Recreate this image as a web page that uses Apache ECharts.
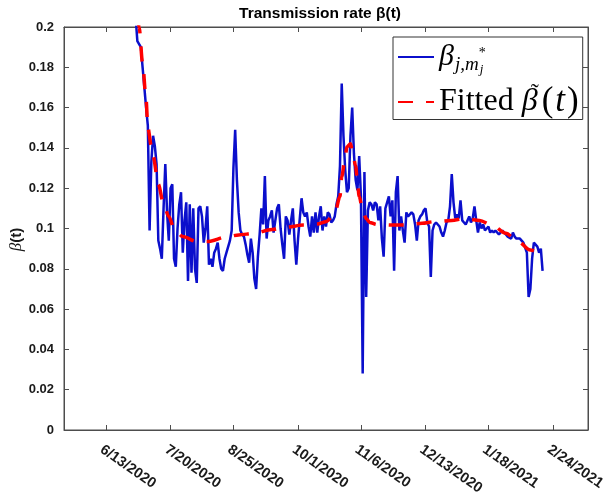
<!DOCTYPE html>
<html>
<head>
<meta charset="utf-8">
<script src="https://cdn.jsdelivr.net/npm/echarts@6/dist/echarts.min.js"></script>
<style>
  html, body { margin: 0; padding: 0; background: #fff; }
  #chart { width: 611px; height: 498px; }
</style>
</head>
<body>
<div id="chart"></div>
<script>
// x positions are day numbers counted from 6/13/2020 (day 0)
const xTickDays = [0, 37, 73, 110, 146, 183, 219, 256];
const xTickLabels = ['6/13/2020', '7/20/2020', '8/25/2020', '10/1/2020',
                     '11/6/2020', '12/13/2020', '1/18/2021', '2/24/2021'];
const xMinDay = -24;
const xMaxDay = 276;

const yMin = 0;
const yMax = 0.2;
const yStep = 0.02;

const seriesNames = ['beta_j', 'fitted'];

// daily transmission rate estimates, first value on day betaStartDay
const betaStartDay = 15;
const betaValues = [
  0.24, 0.22, 0.205, 0.193, 0.193, 0.190, 0.180, 0.170, 0.160, 0.151,
  0.099, 0.133, 0.146, 0.141, 0.132, 0.094, 0.090, 0.085, 0.110, 0.132,
  0.108, 0.094, 0.120, 0.122, 0.085, 0.081, 0.100, 0.112, 0.118, 0.088,
  0.104, 0.113, 0.074, 0.112, 0.078, 0.110, 0.080, 0.073, 0.110, 0.111,
  0.106, 0.093, 0.100, 0.111, 0.082, 0.085, 0.081, 0.088, 0.090, 0.093,
  0.085, 0.080, 0.079, 0.085, 0.088, 0.088, 0.094, 0.099, 0.130, 0.149,
  0.124, 0.108, 0.099, 0.097, 0.096, 0.092, 0.087, 0.083, 0.095, 0.088,
  0.075, 0.070, 0.086, 0.097, 0.110, 0.102, 0.126, 0.095, 0.104, 0.106,
  0.109, 0.098, 0.104, 0.110, 0.112, 0.100, 0.092, 0.085, 0.106, 0.104,
  0.097, 0.104, 0.110, 0.094, 0.082, 0.095, 0.105, 0.115, 0.108, 0.106,
  0.108, 0.101, 0.096, 0.106, 0.098, 0.108, 0.098, 0.106, 0.111, 0.099,
  0.106, 0.101, 0.108, 0.107, 0.103, 0.104, 0.106, 0.112, 0.116, 0.131,
  0.172, 0.146, 0.129, 0.118, 0.120, 0.146, 0.160, 0.137, 0.124, 0.119,
  0.136, 0.116, 0.028, 0.128, 0.066, 0.109, 0.113, 0.112, 0.109, 0.113,
  0.112, 0.104, 0.111, 0.095, 0.086, 0.110, 0.113, 0.116, 0.106, 0.114,
  0.079, 0.118, 0.126, 0.099, 0.106, 0.099, 0.093, 0.108, 0.106, 0.107,
  0.108, 0.107, 0.102, 0.094, 0.104, 0.106, 0.107, 0.109, 0.110, 0.103,
  0.101, 0.076, 0.099, 0.102, 0.103, 0.102, 0.101, 0.098, 0.096, 0.099,
  0.103, 0.104, 0.111, 0.127, 0.113, 0.105, 0.107, 0.105, 0.114, 0.104,
  0.103, 0.102, 0.104, 0.106, 0.103, 0.105, 0.111, 0.104, 0.098, 0.103,
  0.100, 0.102, 0.099, 0.100, 0.101, 0.098, 0.099, 0.098, 0.099, 0.099,
  0.097, 0.098, 0.099, 0.098, 0.097, 0.096, 0.096, 0.095, 0.098, 0.096,
  0.095, 0.095, 0.095, 0.094, 0.093, 0.093, 0.088, 0.066, 0.070, 0.085,
  0.093, 0.092, 0.091, 0.088, 0.090, 0.079
];

// fitted smooth curve
const fitDays = [17, 19, 21, 23, 24, 26, 27, 30, 33, 36, 39, 44, 52, 58, 70, 76, 85, 95,
  103, 113, 121, 126, 131, 134, 135, 137, 138, 140, 141, 143, 144, 145, 147, 149,
  151, 155, 164, 172, 181, 188, 198, 205, 214, 221, 229, 235, 243, 249];
const fitValues = [0.218, 0.200, 0.182, 0.164, 0.150, 0.141, 0.136, 0.122, 0.112, 0.106,
  0.100, 0.096, 0.0935, 0.0935, 0.096, 0.0968, 0.0976, 0.0995,
  0.1006, 0.1017, 0.1022, 0.1034, 0.1075, 0.1158, 0.1257, 0.1357, 0.1406, 0.142, 0.139,
  0.131, 0.1224, 0.116, 0.109, 0.105,
  0.103, 0.102, 0.1017, 0.1017, 0.1026, 0.1034, 0.104, 0.105, 0.104, 0.1017, 0.0976,
  0.0943, 0.0893, 0.0877];

const betaData = betaValues.map((v, i) => [betaStartDay + i, v]);
const fitData = fitDays.map((d, i) => [d, fitValues[i]]);

const sans = '"Liberation Sans", Arial, Helvetica, sans-serif';
const serif = '"Liberation Serif", "Times New Roman", serif';
const axisColor = '#4d4d4d';
const textColor = '#1a1a1a';

const chart = echarts.init(document.getElementById('chart'), null, { renderer: 'canvas' });

const xAxisBase = {
  type: 'value',
  min: xMinDay,
  max: xMaxDay,
  axisLine: { show: true, onZero: false, lineStyle: { color: axisColor, width: 1 } },
  axisTick: { show: true, inside: true, length: 5, customValues: xTickDays,
              lineStyle: { color: axisColor, width: 1 } },
  splitLine: { show: false }
};
const yAxisBase = {
  type: 'value',
  min: yMin,
  max: yMax,
  interval: yStep,
  axisLine: { show: true, onZero: false, lineStyle: { color: axisColor, width: 1 } },
  axisTick: { show: true, inside: true, length: 5, lineStyle: { color: axisColor, width: 1 } },
  splitLine: { show: false }
};

chart.setOption({
  animation: false,
  backgroundColor: '#ffffff',
  title: {
    text: '{a|Transmission rate }{b|β}{a|(t)}',
    left: 315,
    textAlign: 'center',
    top: 1,
    textStyle: {
      rich: {
        a: { fontFamily: sans, fontWeight: 'bold', fontSize: 15.5, color: '#000' },
        b: { fontFamily: sans, fontWeight: 'bold', fontSize: 15.5, color: '#000' }
      }
    }
  },
  grid: {
    left: 64, right: 23, top: 27, bottom: 68,
    outerBoundsMode: 'none',
    containLabel: false,
    show: true, borderColor: axisColor, borderWidth: 1, backgroundColor: '#fff'
  },
  legend: {
    orient: 'vertical',
    left: 393,
    top: 37,
    backgroundColor: '#fff',
    borderColor: '#333',
    borderWidth: 1,
    borderRadius: 0,
    padding: [5, 4, 0, 4],
    itemGap: 5,
    itemWidth: 36,
    itemHeight: 14,
    itemStyle: { opacity: 0 },
    data: seriesNames,
    formatter: name => name === seriesNames[0]
      ? '{b|β}{s|j,m}{sp|*}{ss|j}'
      : '{r|Fitted }{bn|β}{tl|˜}{p|(}{i|t}{p|)}',
    textStyle: {
      color: '#000',
      rich: {
        b: { fontFamily: serif, fontStyle: 'italic', fontSize: 30, lineHeight: 40, color: '#000' },
        bn: { fontFamily: serif, fontStyle: 'italic', fontSize: 32, lineHeight: 40, width: 7, color: '#000' },
        tl: { fontFamily: serif, fontSize: 24, lineHeight: 24, width: 1, verticalAlign: 'top',
              padding: [0, 10, 0, 2], color: '#000' },
        s: { fontFamily: serif, fontStyle: 'italic', fontSize: 19, lineHeight: 19,
             verticalAlign: 'bottom', padding: [0, 0, 3, 1], color: '#000' },
        sp: { fontFamily: serif, fontSize: 14, lineHeight: 14, verticalAlign: 'middle',
              width: 1, padding: [0, 0, 8, 0], color: '#000' },
        ss: { fontFamily: serif, fontStyle: 'italic', fontSize: 13, lineHeight: 13,
              verticalAlign: 'bottom', padding: [0, 0, 1, 0], color: '#000' },
        r: { fontFamily: serif, fontSize: 32, lineHeight: 40, color: '#000' },
        p: { fontFamily: serif, fontSize: 35, lineHeight: 40, color: '#000' },
        i: { fontFamily: serif, fontStyle: 'italic', fontSize: 35, lineHeight: 40,
             padding: [0, 2, 0, 2], color: '#000' }
      }
    }
  },
  xAxis: [
    Object.assign({}, xAxisBase, {
      position: 'bottom',
      axisLabel: {
        show: true, customValues: xTickDays, rotate: -35, margin: 12,
        verticalAlign: 'top',
        fontFamily: sans, fontWeight: 'bold', fontSize: 14.5, color: textColor,
        formatter: v => xTickLabels[xTickDays.indexOf(Math.round(v))] || ''
      }
    }),
    Object.assign({}, xAxisBase, {
      position: 'top',
      axisLabel: { show: false }
    })
  ],
  yAxis: [
    Object.assign({}, yAxisBase, {
      position: 'left',
      name: '{b|β}{a|(t)}',
      nameLocation: 'middle',
      nameRotate: 90,
      nameGap: 39,
      nameMoveOverlap: false,
      nameTextStyle: {
        padding: [0, 22, 0, 0],
        rich: {
          b: { fontFamily: serif, fontStyle: 'italic', fontSize: 17, color: textColor },
          a: { fontFamily: sans, fontWeight: 'bold', fontSize: 15, color: textColor }
        }
      },
      axisLabel: {
        show: true, margin: 10,
        fontFamily: sans, fontWeight: 'bold', fontSize: 13, color: textColor,
        formatter: v => String(Math.round(v * 100) / 100)
      }
    }),
    Object.assign({}, yAxisBase, {
      position: 'right',
      axisLabel: { show: false }
    })
  ],
  series: [
    {
      name: seriesNames[0],
      type: 'line',
      data: betaData,
      xAxisIndex: 0,
      yAxisIndex: 0,
      symbol: 'none',
      showSymbol: false,
      clip: true,
      lineStyle: { color: '#0b0fcc', width: 2.5 },
      itemStyle: { color: '#0b0fcc' },
      z: 2
    },
    {
      name: seriesNames[1],
      type: 'line',
      data: fitData,
      xAxisIndex: 0,
      yAxisIndex: 0,
      symbol: 'none',
      showSymbol: false,
      clip: true,
      smooth: 0.3,
      smoothMonotone: 'x',
      lineStyle: { color: '#ff0000', width: 3.5, type: [15, 13] },
      itemStyle: { color: '#ff0000' },
      z: 3
    }
  ]
});
</script>
</body>
</html>
